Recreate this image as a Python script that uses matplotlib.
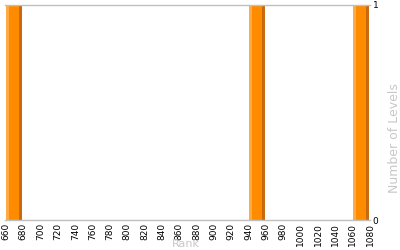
import numpy as np
import matplotlib.pyplot as plt

# Datos
rank_bins = [660, 940, 1060]
levels = [1, 1, 1]
bin_width = 19
xticks = list(range(660, 1081, 20))

fig = plt.figure(figsize=(4, 2.5), dpi=100)
ax = fig.add_axes([0.0125, 0.12, 0.9125, 0.86])

# barras con tres tonos (claro, medio, oscuro)
ax.bar(rank_bins, levels, width=bin_width, align='edge', color='#FFAA44', linewidth=0)
ax.bar([r + 3.5 for r in rank_bins], levels, width=bin_width - 7, align='edge',
       color='#FF8C00', linewidth=0)
ax.bar([r + bin_width - 3.5 for r in rank_bins], levels, width=3.5, align='edge',
       color='#C86A10', linewidth=0)

ax.set_xlim(659, 1080)
ax.set_ylim(0, 1)
ax.set_xticks(xticks)
ax.set_xticklabels([str(t) for t in xticks], rotation=90, fontsize=6.5)
ax.set_yticks([0, 1])
ax.yaxis.tick_right()
ax.tick_params(axis='both', length=0, pad=2, labelsize=6.5)

for s in ['left', 'right']:
    ax.spines[s].set_visible(False)
for s in ['top', 'bottom']:
    ax.spines[s].set_color('#C0C0C0')
    ax.spines[s].set_linewidth(1)

ax.set_xlabel("Rank", color='#C8C8C8', fontsize=8)
ax.xaxis.set_label_coords(0.496, -0.088)
ax.text(1.068, 0.38, "Number of Levels", transform=ax.transAxes, rotation=90,
        ha='center', va='center', color='#C8C8C8', fontsize=9)

fig.savefig("out.png", dpi=100)
